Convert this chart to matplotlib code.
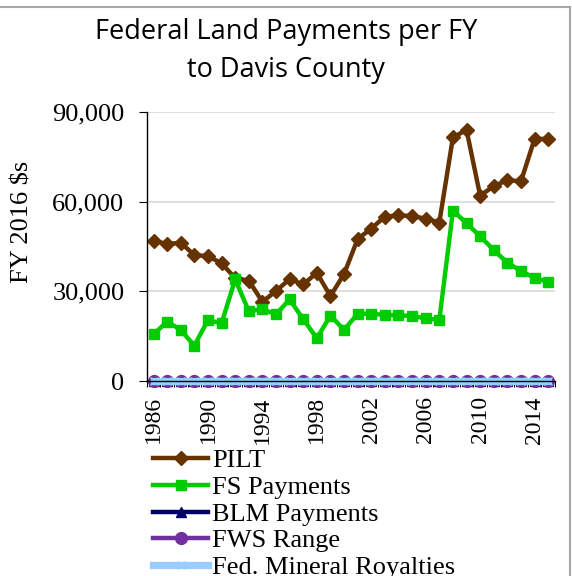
import matplotlib
matplotlib.use("Agg")
import matplotlib.pyplot as plt
from matplotlib.patches import Rectangle
from matplotlib.ticker import FuncFormatter, FixedLocator

# Federal land payments to Davis County, FY 2016 dollars
years = list(range(1986, 2016))
pilt = [47000, 45800, 46300, 42100, 41800, 39400, 34400, 33600, 26500, 30100,
        34100, 32300, 36200, 28400, 35800, 47500, 51000, 55000, 55400, 55200,
        54300, 53000, 81500, 84000, 62000, 65200, 67200, 66800, 81000, 81000]
fs_payments = [15600, 19900, 17100, 11800, 20400, 19300, 34000, 23400, 24000, 22300,
               27300, 20700, 14300, 21900, 17100, 22500, 22500, 22100, 22000, 21700,
               21000, 20400, 57000, 52800, 48400, 43800, 39600, 36800, 34500, 33100]
blm_payments = [0] * len(years)
fws_range = [0] * len(years)
mineral_royalties = [0] * len(years)

series = [
    ("PILT", pilt, "#663300", "D", 7.5, 3.2),
    ("FS Payments", fs_payments, "#00CC00", "s", 7, 3.2),
    ("BLM Payments", blm_payments, "#000066", "^", 7, 3.2),
    ("FWS Range", fws_range, "#7030A0", "o", 8.5, 3.2),
    ("Fed. Mineral Royalties", mineral_royalties, "#99CCFF", "x", 6, 5.2),
]

fig = plt.figure(figsize=(5.72, 5.76), dpi=100)
ax = fig.add_axes([146.7 / 572, 195 / 576, 408.3 / 572, 269 / 576])

x = list(range(len(years)))
for name, vals, color, marker, ms, lw in series:
    ax.plot(x, vals, color=color, marker=marker, markersize=ms, linewidth=lw,
            markeredgecolor=color, label=name, clip_on=False)

ax.set_xlim(-0.5, len(years) - 0.5)
ax.set_ylim(0, 90000)
ax.set_yticks([0, 30000, 60000, 90000])
ax.yaxis.set_major_formatter(FuncFormatter(lambda v, p: f"{int(v):,}"))
ax.grid(axis="y", color="#D9D9D9", linewidth=1.2)
ax.set_axisbelow(True)

# category ticks between years, labels every fourth year
ax.xaxis.set_major_locator(FixedLocator([i - 0.5 for i in range(len(years) + 1)]))
ax.set_xticklabels([])
ax.xaxis.set_minor_locator(FixedLocator(x[::4]))
ax.set_xticklabels([str(y) for y in years[::4]], minor=True, rotation=90,
                   fontsize=17, family="Liberation Serif")
ax.tick_params(axis="x", which="major", length=4, width=0.8, direction="out")
ax.tick_params(axis="x", which="minor", length=0, pad=11)
ax.tick_params(axis="y", length=6, width=0.8, labelsize=19, pad=10)
for lbl in ax.get_yticklabels():
    lbl.set_family("Liberation Serif")

for side in ["top", "right"]:
    ax.spines[side].set_visible(False)
ax.spines["left"].set_linewidth(1.0)
ax.spines["bottom"].set_linewidth(1.0)

fig.text(23 / 572, 1 - 222 / 576, "FY 2016 $s", rotation=90, ha="center",
         va="center", fontsize=19, family="Liberation Serif")

fig.text(0.5, 1 - 51 / 576, "Federal Land Payments per FY\nto Davis County",
         ha="center", va="center", fontsize=19.5, family="Open Sans",
         linespacing=1.5)

leg = ax.legend(loc="upper left", bbox_to_anchor=(153 / 572, 1 - 449 / 576),
                bbox_transform=fig.transFigure, frameon=False,
                prop={"family": "Liberation Serif", "size": 19},
                handlelength=2.1, handletextpad=0.15, labelspacing=0.12,
                borderpad=0, borderaxespad=0)

# chart border
fig.patches.append(Rectangle((-10 / 572, -10 / 576), 580 / 572, 579 / 576,
                             transform=fig.transFigure, fill=False,
                             edgecolor="#A6A6A6", linewidth=1.5))

fig.savefig("out.png", dpi=100)
